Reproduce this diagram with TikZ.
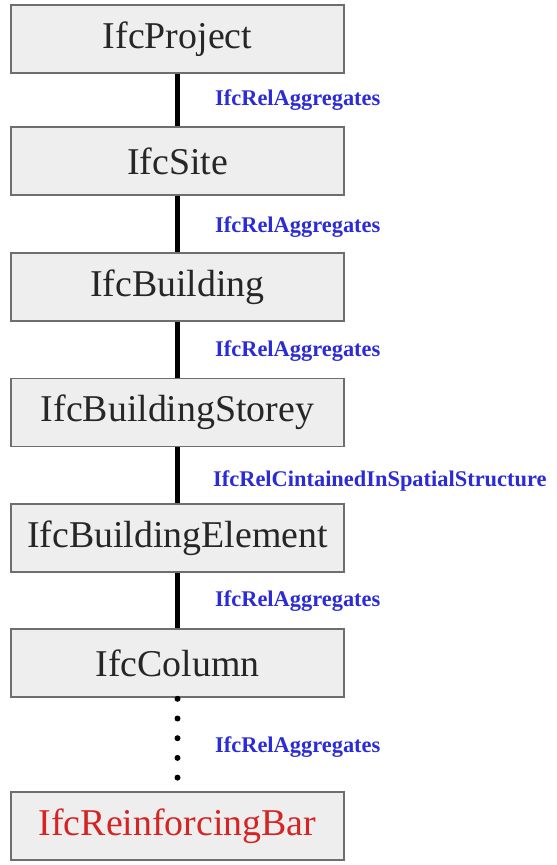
\documentclass[tikz,border=0pt]{standalone}
\usepackage{fontspec}
\setmainfont{Liberation Serif}
\usetikzlibrary{calc}
\definecolor{boxfill}{HTML}{EEEEEE}
\definecolor{boxline}{HTML}{6E6E6E}
\definecolor{relblue}{HTML}{2B2BD8}
\definecolor{leafred}{HTML}{D42424}
\tikzset{
  entity/.style={draw=boxline, fill=boxfill, line width=1.6bp,
    minimum width=333bp, minimum height=68bp, inner sep=0pt,
    font=\fontsize{38}{40}\selectfont, text=black!85},
  rel/.style={anchor=west, inner sep=0pt, text=relblue,
    font=\bfseries\fontsize{22.5}{24}\selectfont},
  link/.style={line width=5bp},
  dotlink/.style={line width=6bp, line cap=round, dash pattern=on 0bp off 19.7bp}
}
\begin{document}
\begin{tikzpicture}[x=1bp,y=-1bp]
  \useasboundingbox (0,0) rectangle (557,865);
  \fill[white] (0,0) rectangle (557,865);

  % hierarchy of spatial structure
  \node[entity] (proj)  at (177.5,39)    {IfcProject};
  \node[entity] (site)  at (177.5,161)   {IfcSite};
  \node[entity] (bldg)  at (177.5,287)   {IfcBuilding};
  \node[entity] (story) at (177.5,412.5) {IfcBuildingStorey};
  \node[entity] (elem)  at (177.5,538)   {IfcBuildingElement};
  \node[entity] (col)   at (177.5,663)   {IfcColumn};
  \node[entity, text=leafred] (bar) at (177.5,826) {IfcReinforcingBar};

  % relationships
  \draw[link] (proj.south)  -- (site.north);
  \draw[link] (site.south)  -- (bldg.north);
  \draw[link] (bldg.south)  -- (story.north);
  \draw[link] (story.south) -- (elem.north);
  \draw[link] (elem.south)  -- (col.north);
  \draw[dotlink, shorten <=1bp, shorten >=8bp] (col.south) -- (bar.north);

  \node[rel] (r1) at (215,100) {IfcRelAggregates};
  \node[rel] (r2) at (215,227) {IfcRelAggregates};
  \node[rel] (r3) at (215,351) {IfcRelAggregates};
  \node[rel] (r4) at (213,481) {IfcRelCintainedInSpatialStructure};
  \node[rel] (r5) at (215,601) {IfcRelAggregates};
  \node[rel] (r6) at (215,747) {IfcRelAggregates};
\end{tikzpicture}
\end{document}
